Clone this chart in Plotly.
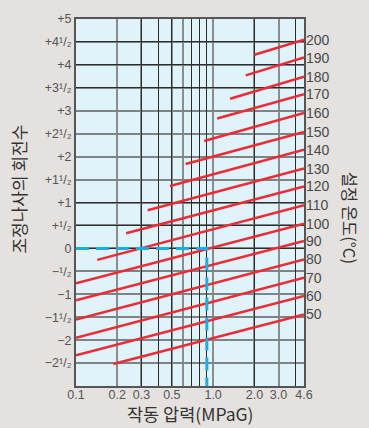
import plotly.graph_objects as go
import math

# ---- data ----
temps = [200, 190, 180, 170, 160, 150, 140, 130, 120, 110, 100, 90, 80, 70, 60, 50]
start_pressure = [2.0, 1.73, 1.33, 1.07, 0.86, 0.63, 0.485, 0.333, 0.232, 0.143, 0.1, 0.1, 0.1, 0.1, 0.1, 0.187]
start_turns = [4.22, 3.77, 3.26, 2.83, 2.34, 1.84, 1.36, 0.83, 0.33, -0.25, -0.76, -1.13, -1.55, -1.95, -2.33, -2.52]
end_pressure = 4.6
end_turns = [4.55, 4.16, 3.74, 3.36, 2.95, 2.54, 2.15, 1.74, 1.35, 0.94, 0.54, 0.16, -0.24, -0.64, -1.04, -1.44]

# example reading (blue dashed guide)
example_pressure = 0.9
example_turns = 0

x_tick_vals = [0.1, 0.2, 0.3, 0.5, 1.0, 2.0, 3.0, 4.6]
x_tick_text = ["0.1", "0.2", "0.3", "0.5", "1.0", "2.0", "3.0", "4.6"]
x_grid_gray = [0.2, 0.6, 1.0, 3.0]
x_grid_dark = [0.3, 0.4, 0.5, 0.7, 0.8, 0.9, 2.0, 4.0]

y_tick_vals = [5, 4.5, 4, 3.5, 3, 2.5, 2, 1.5, 1, 0.5, 0, -0.5, -1, -1.5, -2, -2.5]
y_tick_text = ["+5", "+4¹/₂", "+4", "+3¹/₂", "+3", "+2¹/₂", "+2", "+1¹/₂", "+1", "+¹/₂",
               "0", "−¹/₂", "−1", "−1¹/₂", "−2", "−2¹/₂"]
y_grid_dark = [4.5, 4, 3.5, 1, 0.5, 0]

X_RANGE = [0.1, 4.6]
Y_RANGE = [-3, 5]

RED = "#ee2a32"
BLUE = "#1aaee6"
FONT = "Liberation Sans, Arial, sans-serif"
KFONT = "Noto Sans CJK KR, sans-serif"

fig = go.Figure()

# overlay axes carry the darker grid lines
fig.add_trace(go.Scatter(x=[None], y=[None], xaxis="x2", yaxis="y2",
                         showlegend=False, hoverinfo="skip"))

for t, p0, y0, y1 in zip(temps, start_pressure, start_turns, end_turns):
    fig.add_trace(go.Scatter(
        x=[p0, end_pressure], y=[y0, y1], mode="lines",
        line=dict(color=RED, width=2.5), showlegend=False, hoverinfo="skip"))

fig.add_trace(go.Scatter(
    x=[X_RANGE[0], example_pressure, example_pressure],
    y=[example_turns, example_turns, Y_RANGE[0]],
    mode="lines", line=dict(color=BLUE, width=3, dash="13px,7px"),
    showlegend=False, hoverinfo="skip"))

# temperature labels at right end of each line
for t, y1 in zip(temps, end_turns):
    fig.add_annotation(x=1, xref="paper", y=y1, yref="y", text=str(t),
                       showarrow=False, xanchor="left", xshift=0,
                       font=dict(family=FONT, size=14, color="#4a4a4a"))

fig.add_annotation(x=-0.254, xref="paper", y=0.5, yref="paper",
                   text="조정나사의 회전수", textangle=-90, showarrow=False,
                   xanchor="center", yanchor="middle", yshift=13,
                   font=dict(family=KFONT, size=17, color="#333333"))
fig.add_annotation(x=1.205, xref="paper", y=0.5, yref="paper",
                   text="설정 온도(°C)", textangle=90, showarrow=False,
                   xanchor="center", yanchor="middle", yshift=-15,
                   font=dict(family=KFONT, size=16.5, color="#333333"))
fig.add_annotation(x=0.5, xref="paper", y=-0.0759, yref="paper",
                   text="작동 압력(MPaG)", showarrow=False,
                   xanchor="center", yanchor="middle",
                   font=dict(family=KFONT, size=17.5, color="#333333"))

lr = [math.log10(X_RANGE[0]), math.log10(X_RANGE[1])]

fig.update_layout(
    width=369, height=428,
    margin=dict(l=76, r=65, t=17, b=42),
    paper_bgcolor="#e4e1de",
    plot_bgcolor="#e0f3fb",
    xaxis=dict(type="log", range=lr, tickmode="array",
               tickvals=x_tick_vals + x_grid_gray, ticktext=x_tick_text + [""] * len(x_grid_gray),
               showgrid=True, gridcolor="#8a8c8e", gridwidth=1.6,
               showline=True, linecolor="#555555", linewidth=2, mirror=True,
               ticks="", zeroline=False, ticklabelstandoff=-4,
               tickfont=dict(family=FONT, size=12.5, color="#555555")),
    xaxis2=dict(type="log", range=lr, overlaying="x", tickmode="array",
                tickvals=x_grid_dark, showticklabels=False, showgrid=True,
                gridcolor="#2c2c2c", gridwidth=1.3, ticks="", zeroline=False),
    yaxis=dict(range=Y_RANGE, tickmode="array", tickvals=y_tick_vals, ticktext=y_tick_text,
               showgrid=True, gridcolor="#7e8386", gridwidth=1.8,
               showline=True, linecolor="#555555", linewidth=2, mirror=True,
               ticks="", zeroline=False,
               tickfont=dict(family=FONT, size=12.5, color="#555555")),
    yaxis2=dict(range=Y_RANGE, overlaying="y", tickmode="array", tickvals=y_grid_dark,
                showticklabels=False, showgrid=True, gridcolor="#2c2c2c", gridwidth=1.3,
                ticks="", zeroline=False),
)

fig.write_html("out.html", config={"displayModeBar": False},
               post_script="document.body.style.margin='0';document.body.style.background='#e4e1de';")
